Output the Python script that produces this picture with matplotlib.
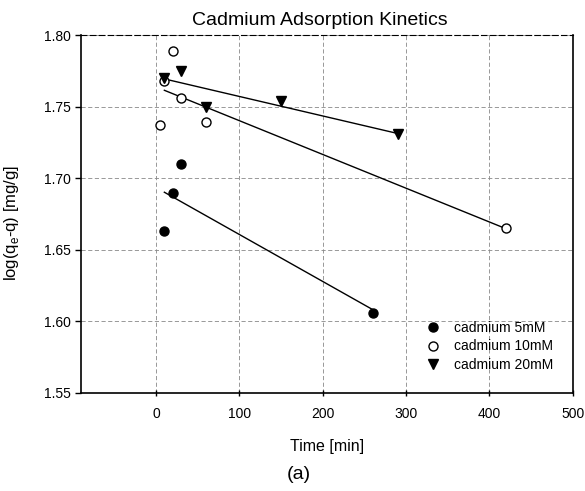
import numpy as np
import matplotlib
matplotlib.use("Agg")
import matplotlib.pyplot as plt

plt.rcParams['font.family'] = ['Liberation Sans', 'DejaVu Sans']

# data
t_5mM = [10, 20, 30, 260]
q_5mM = [1.663, 1.690, 1.710, 1.606]
t_10mM = [5, 10, 20, 30, 60, 420]
q_10mM = [1.737, 1.768, 1.789, 1.756, 1.739, 1.665]
t_20mM = [10, 30, 60, 150, 290]
q_20mM = [1.770, 1.775, 1.750, 1.754, 1.731]

x_ticks = [0, 100, 200, 300, 400, 500]
y_ticks = [1.55, 1.60, 1.65, 1.70, 1.75, 1.80]

fig = plt.figure(figsize=(5.85, 4.91), dpi=100)
ax = fig.add_axes([0.1385, 0.1996, 0.8405, 0.7291])

series = [
    (t_5mM, q_5mM, dict(marker='o', color='black', mfc='black'), 'cadmium 5mM'),
    (t_10mM, q_10mM, dict(marker='o', color='black', mfc='white'), 'cadmium 10mM'),
    (t_20mM, q_20mM, dict(marker='v', color='black', mfc='black'), 'cadmium 20mM'),
]

for t, q, style, lab in series:
    ax.plot(t, q, linestyle='none', markersize=6.5, markeredgewidth=1.0,
            label=lab, zorder=3, **style)
    # linear fit drawn between first and last time
    k, b = np.polyfit(t, q, 1)
    xs = np.array([min(t[1], 10), max(t)])
    ax.plot(xs, k * xs + b, color='black', linewidth=1.0, zorder=2)

ax.set_xlim(-90, 500)
ax.set_ylim(1.55, 1.80)
ax.set_xticks(x_ticks)
ax.set_yticks(y_ticks)
ax.set_yticklabels(['%.2f' % v for v in y_ticks])
ax.tick_params(labelsize=10, length=4, width=1, color='black')
ax.tick_params(axis='x', direction='inout', pad=8)

ax.grid(True, color='#888888', linestyle=(0, (5, 3)), linewidth=0.6)
ax.set_axisbelow(True)
for s in ['left', 'bottom', 'right']:
    ax.spines[s].set_linewidth(1.2)
ax.spines['top'].set_linestyle((0, (5, 3)))
ax.spines['top'].set_linewidth(0.8)

ax.set_title('Cadmium Adsorption Kinetics', fontsize=14, pad=7, x=0.485)
ax.set_xlabel('Time [min]', fontsize=11.5, labelpad=13)
ax.set_ylabel('log(q$_\\mathregular{e}$-q) [mg/g]', fontsize=12)
ax.yaxis.set_label_coords(-0.122, 0.475)

ax.legend(loc='lower right', bbox_to_anchor=(0.985, 0.025), frameon=False,
          fontsize=10, handletextpad=0.9, labelspacing=0.3, handlelength=1.2)

fig.text(0.51, 0.025, '(a)', fontsize=14, ha='center')

fig.savefig('out.png', dpi=100)
